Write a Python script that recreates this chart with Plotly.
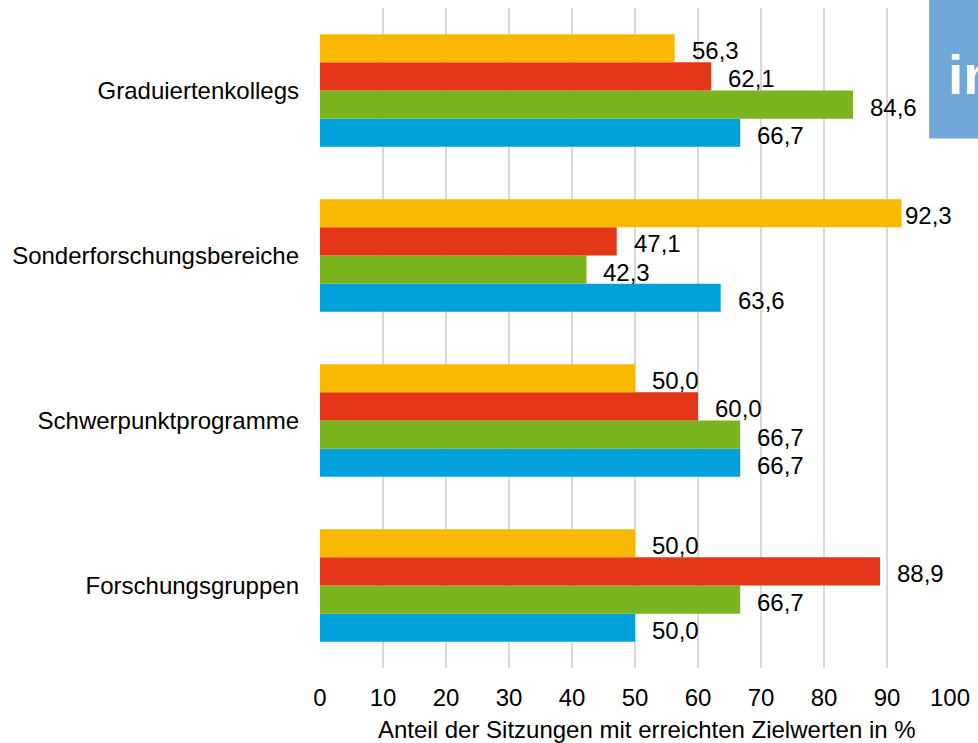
import plotly.graph_objects as go

# ---- data ----
categories = ["Graduiertenkollegs", "Sonderforschungsbereiche",
              "Schwerpunktprogramme", "Forschungsgruppen"]
# series listed top-to-bottom within each group
series_names = ["Serie 1", "Serie 2", "Serie 3", "Serie 4"]
series_colors = ["#F9B900", "#E33517", "#7AB51F", "#00A0DA"]
values = [
    [56.3, 92.3, 50.0, 50.0],   # yellow
    [62.1, 47.1, 60.0, 88.9],   # red
    [84.6, 42.3, 66.7, 66.7],   # green
    [66.7, 63.6, 66.7, 50.0],   # blue
]
x_title = "Anteil der Sitzungen mit erreichten Zielwerten in %"
x_ticks = [0, 10, 20, 30, 40, 50, 60, 70, 80, 90, 100]

FONT = "Arial, Liberation Sans, sans-serif"
FS = 24

W, H = 978, 743
L, R, T, B = 320, 24, 8, 75
plot_w = W - L - R
plot_h = H - T - B
bargap = 0.317

fig = go.Figure()
n = len(series_names)
# plotly stacks group members bottom-up, so add in reverse order
for j in reversed(range(n)):
    fig.add_trace(go.Bar(
        y=categories, x=values[j], orientation="h",
        name=series_names[j], marker=dict(color=series_colors[j], line=dict(width=0)),
        showlegend=False,
    ))

# value labels
cat_px = plot_h / len(categories)
bar_px = cat_px * (1 - bargap) / n
annotations = []
for j in range(n):
    pos_from_bottom = n - 1 - j
    yshift = (pos_from_bottom - (n - 1) / 2) * bar_px - 2.5
    for c, v in zip(categories, values[j]):
        txt = f"{v:.1f}".replace(".", ",")
        end_px = v / 100 * plot_w
        if end_px + 15 + 50 > plot_w:
            annotations.append(dict(x=100, y=c, xref="x", yref="y", text=txt,
                                    showarrow=False, xanchor="right", xshift=4,
                                    yshift=yshift, font=dict(family=FONT, size=FS, color="#000")))
        else:
            annotations.append(dict(x=v, y=c, xref="x", yref="y", text=txt,
                                    showarrow=False, xanchor="left", xshift=15,
                                    yshift=yshift, font=dict(family=FONT, size=FS, color="#000")))

# axis title
annotations.append(dict(x=(649 - L) / plot_w, y=(H - B - 729.5) / plot_h,
                        xref="paper", yref="paper", text=x_title, showarrow=False,
                        xanchor="center", yanchor="middle",
                        font=dict(family=FONT, size=FS, color="#000")))
# corner box text
annotations.append(dict(x=(950 - L) / plot_w, y=(H - B - 75) / plot_h,
                        xref="paper", yref="paper", text="<b>in</b>", showarrow=False,
                        xanchor="left", yanchor="middle",
                        font=dict(family=FONT, size=55, color="#ffffff")))

shapes = [dict(type="rect", xref="paper", yref="paper",
               x0=(933 - L) / plot_w, x1=(W + 20 - L) / plot_w,
               y0=(H - B - 138.5) / plot_h, y1=(H - B + 5) / plot_h,
               fillcolor="#6FA7D6", line=dict(width=0), layer="above")]

fig.update_layout(
    width=W, height=H, autosize=False,
    margin=dict(l=L, r=R, t=T, b=B, pad=0),
    paper_bgcolor="white", plot_bgcolor="white",
    barmode="group", bargap=bargap, bargroupgap=0,
    font=dict(family=FONT, size=FS, color="#000"),
    annotations=annotations, shapes=shapes,
    showlegend=False,
)
fig.update_xaxes(range=[0, 100], tickvals=x_ticks, ticktext=[str(t) for t in x_ticks],
                 showgrid=True, gridcolor="#D9D9D9", gridwidth=1.5,
                 zeroline=False, showline=False, ticks="",
                 ticklabelstandoff=13,
                 tickfont=dict(family=FONT, size=FS, color="#000"))
fig.update_yaxes(categoryorder="array", categoryarray=list(reversed(categories)),
                 showgrid=False, zeroline=False, showline=False, ticks="",
                 ticklabelstandoff=20,
                 tickfont=dict(family=FONT, size=FS, color="#000"))

fig.write_html("out.html")
